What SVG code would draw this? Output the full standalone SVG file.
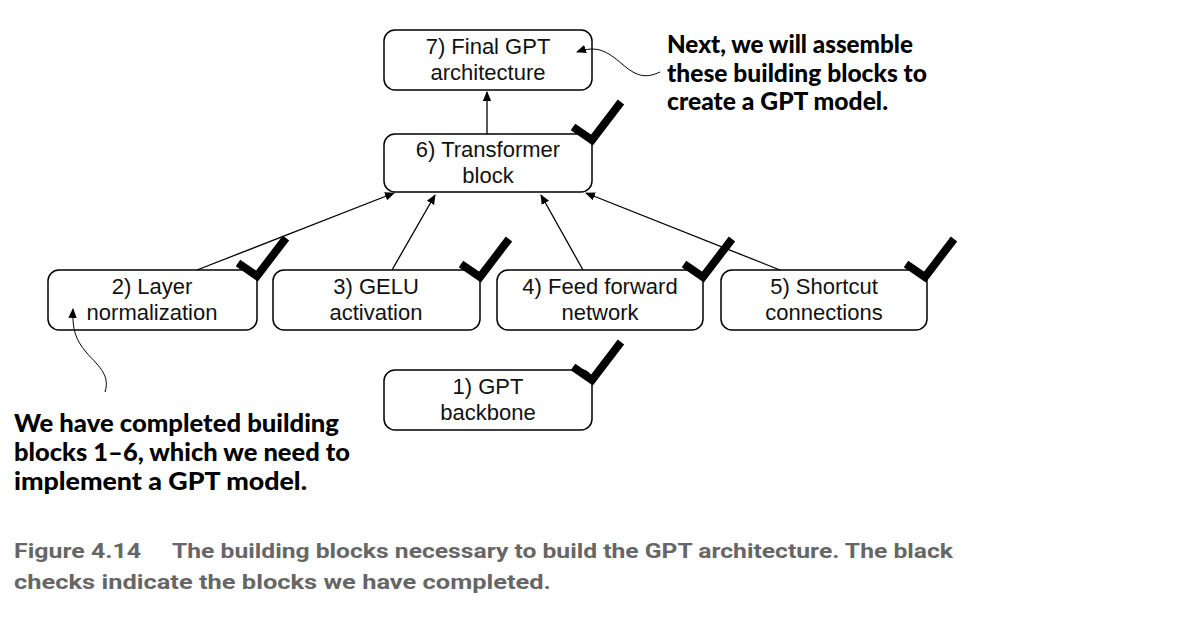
<svg xmlns="http://www.w3.org/2000/svg" xmlns:xlink="http://www.w3.org/1999/xlink" width="1192" height="622" viewBox="0 0 1192 622">
<style>
.box{fill:#fff;stroke:#000;stroke-width:1.5}
.lbl{font-family:"Liberation Sans",Arial,sans-serif;font-size:22px;fill:#111;text-anchor:middle}
.conn{fill:none;stroke:#000;stroke-width:1.3}
.curve{fill:none;stroke:#000;stroke-width:1}
.note{font-family:Lato,"Open Sans",sans-serif;font-weight:900;font-size:24px;fill:#000}
.cap{font-family:Roboto,"Liberation Sans",sans-serif;font-weight:700;font-size:21px;fill:#666}
.chk{fill:none;stroke:#000;stroke-width:8;stroke-linejoin:miter}
</style>
<defs>
<marker id="ah" viewBox="0 0 10 10" refX="9" refY="5" markerWidth="10" markerHeight="10" markerUnits="userSpaceOnUse" orient="auto">
<path d="M0,0.8 L10,5 L0,9.2 Z" fill="#000"/>
</marker>
<polyline id="check" class="chk" points="-19,-12 0,1 29,-37"/>
</defs>
<rect width="1192" height="622" fill="#fff"/>
<g id="node7">
<rect class="box" x="384" y="30" width="208" height="60" rx="11"/>
<text class="lbl" x="488" y="54">7) Final GPT</text>
<text class="lbl" x="488" y="80">architecture</text>
</g>
<g id="node6">
<rect class="box" x="384" y="134" width="208" height="58" rx="11"/>
<text class="lbl" x="488" y="157">6) Transformer</text>
<text class="lbl" x="488" y="183">block</text>
</g>
<g id="node2">
<rect class="box" x="48" y="270" width="209" height="60" rx="11"/>
<text class="lbl" x="152" y="294">2) Layer</text>
<text class="lbl" x="152" y="320">normalization</text>
</g>
<g id="node3">
<rect class="box" x="273" y="270" width="207" height="60" rx="11"/>
<text class="lbl" x="376" y="294">3) GELU</text>
<text class="lbl" x="376" y="320">activation</text>
</g>
<g id="node4">
<rect class="box" x="497" y="270" width="206" height="60" rx="11"/>
<text class="lbl" x="600" y="294">4) Feed forward</text>
<text class="lbl" x="600" y="320">network</text>
</g>
<g id="node5">
<rect class="box" x="721" y="270" width="206" height="60" rx="11"/>
<text class="lbl" x="824" y="294">5) Shortcut</text>
<text class="lbl" x="824" y="320">connections</text>
</g>
<g id="node1">
<rect class="box" x="384" y="370" width="208" height="60" rx="11"/>
<text class="lbl" x="488" y="394">1) GPT</text>
<text class="lbl" x="488" y="420">backbone</text>
</g>
<g id="connectors">
<line class="conn" x1="487" y1="134" x2="487" y2="92" marker-end="url(#ah)"/>
<line class="conn" x1="197" y1="270" x2="394" y2="193" marker-end="url(#ah)"/>
<line class="conn" x1="392" y1="270" x2="435" y2="195" marker-end="url(#ah)"/>
<line class="conn" x1="583" y1="270" x2="541" y2="195" marker-end="url(#ah)"/>
<line class="conn" x1="780" y1="270" x2="586" y2="193" marker-end="url(#ah)"/>
<path class="curve" d="M660,72 C645,79 636,76 622,64 C607,51 597,45 577,52" marker-end="url(#ah)"/>
<path class="curve" d="M105,392 C111,374 96,364 86,352 C76,340 72,330 73,309" marker-end="url(#ah)"/>
</g>
<g id="checks">
<use xlink:href="#check" x="592" y="139"/>
<use xlink:href="#check" x="257" y="275"/>
<use xlink:href="#check" x="480" y="276"/>
<use xlink:href="#check" x="703" y="276"/>
<use xlink:href="#check" x="925" y="276"/>
<use xlink:href="#check" x="592" y="379"/>
</g>
<g id="note-top">
<text class="note" x="667" y="53" textLength="246" lengthAdjust="spacingAndGlyphs">Next, we will assemble</text>
<text class="note" x="667" y="82" textLength="260" lengthAdjust="spacingAndGlyphs">these building blocks to</text>
<text class="note" x="667" y="110" textLength="221" lengthAdjust="spacingAndGlyphs">create a GPT model.</text>
</g>
<g id="note-bottom">
<text class="note" x="14" y="432" textLength="325" lengthAdjust="spacingAndGlyphs">We have completed building</text>
<text class="note" x="14" y="461" textLength="336" lengthAdjust="spacingAndGlyphs">blocks 1–6, which we need to</text>
<text class="note" x="14" y="490" textLength="293" lengthAdjust="spacingAndGlyphs">implement a GPT model.</text>
</g>
<g id="caption">
<text class="cap" x="14" y="558" textLength="127" lengthAdjust="spacingAndGlyphs">Figure 4.14</text>
<text class="cap" x="172" y="558" textLength="781" lengthAdjust="spacingAndGlyphs">The building blocks necessary to build the GPT architecture. The black</text>
<text class="cap" x="14" y="589" textLength="537" lengthAdjust="spacingAndGlyphs">checks indicate the blocks we have completed.</text>
</g>
</svg>
